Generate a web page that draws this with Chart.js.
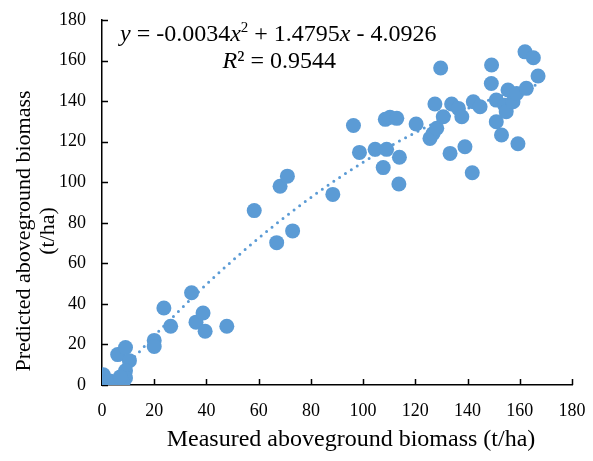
<!DOCTYPE html>
<html lang="en">
  <head>
    <meta charset="UTF-8" />
    <title>Biomass scatter</title>
    <style>
      html, body { margin: 0; padding: 0; background: #fff; }
      .wrap { width: 593px; height: 461px; position: relative; }
    </style>
  </head>
  <body>
    <div class="wrap"><canvas id="biomassChart" width="593" height="461"></canvas></div>

    <script src="https://cdn.jsdelivr.net/npm/chart.js"></script>
    <script>
      // measured (x) and predicted (y) biomass, t/ha
      const measured = [
        0.5, 1, 3, 6, 9, 10.5, 9, 9, 8, 7,
        20, 20, 23.7, 26.3, 34.3, 36, 38.7, 39.5, 47.8,
        58.3, 66.9, 68.2, 71, 73, 88.4,
        96.3, 98.6, 104.6, 107.7, 109, 108.5, 110.3, 112.9, 113.9, 113.7, 120.3,
        125.6, 126.8, 128.2, 127.5, 129.7, 130.7, 133.3, 133.9, 136.5, 137.8, 139, 141.8, 142.2, 144.8,
        149.2, 149.1, 151, 151, 153, 154.2, 154.8, 155.5, 157.4, 158.8, 159.3, 162.5, 162, 165.2, 167
      ];
      const predicted = [
        5, 1, 2, 15, 18.5, 12, 7, 3.5, 1, 4,
        22, 19, 38, 29, 45.5, 31, 35.5, 26.5, 29,
        86, 70.2, 98, 103, 76, 94,
        128, 114.7, 116.2, 107.2, 116.2, 131, 132, 131.5, 112.3, 99.1, 128.7,
        121.6, 124, 126.6, 138.6, 156.3, 132.3, 114.2, 138.6, 136.4, 132.3, 117.5, 104.7, 139.7, 137.2,
        157.8, 148.7, 140.5, 129.8, 123.3, 138, 134.8, 145.5, 139.7, 143.8, 119, 146.3, 164.3, 161.4, 152.4
      ];

      // fitted polynomial y = a x^2 + b x + c (as printed on the chart)
      const fitCoef = [-0.0034, 1.4795, -4.0926];
      const fitRange = [0, 167];

      const xTicks = [0, 20, 40, 60, 80, 100, 120, 140, 160, 180];
      const yTicks = [0, 20, 40, 60, 80, 100, 120, 140, 160, 180];

      const points = measured.map((x, i) => ({ x: x, y: predicted[i] }));
      const trend = [];
      for (let x = fitRange[0]; x <= fitRange[1]; x += 1) {
        trend.push({ x: x, y: fitCoef[0] * x * x + fitCoef[1] * x + fitCoef[2] });
      }

      const blue = "#5b9bd5";
      const serif = "'Liberation Serif', 'Times New Roman', serif";

      // small tick marks pointing into the plot, like Excel
      const innerTicks = {
        id: "innerTicks",
        beforeDatasetsDraw(chart) {
          const ctx = chart.ctx;
          const xs = chart.scales.x;
          const ys = chart.scales.y;
          ctx.save();
          ctx.strokeStyle = "#000";
          ctx.lineWidth = 1.5;
          ctx.beginPath();
          xTicks.forEach((v) => {
            const px = Math.round(xs.getPixelForValue(v)) + 0.5;
            ctx.moveTo(px, ys.bottom);
            ctx.lineTo(px, ys.bottom - 6);
          });
          yTicks.forEach((v) => {
            const py = Math.round(ys.getPixelForValue(v)) + 0.5;
            ctx.moveTo(xs.left, py);
            ctx.lineTo(xs.left + 6, py);
          });
          ctx.stroke();
          ctx.restore();
        },
      };

      // equation, R2 and axis titles
      const labels = {
        id: "labels",
        afterDraw(chart) {
          const ctx = chart.ctx;
          ctx.save();
          ctx.fillStyle = "#000";
          ctx.textBaseline = "alphabetic";

          const size = 24;
          const parts = [
            ["y", "italic", size, 0],
            [" = -0.0034", "normal", size, 0],
            ["x", "italic", size, 0],
            ["2", "normal", 15, -9],
            [" + 1.4795", "normal", size, 0],
            ["x", "italic", size, 0],
            [" - 4.0926", "normal", size, 0],
          ];
          let x = 120;
          parts.forEach((p) => {
            ctx.font = p[1] + " " + p[2] + "px " + serif;
            ctx.fillText(p[0], x, 41 + p[3]);
            x += ctx.measureText(p[0]).width;
          });

          const r2 = [
            ["R", "italic"],
            ["\u00b2 = 0.9544", "normal"],
          ];
          let w = 0;
          r2.forEach((p) => {
            ctx.font = p[1] + " " + size + "px " + serif;
            w += ctx.measureText(p[0]).width;
          });
          x = 336 - w;
          r2.forEach((p) => {
            ctx.font = p[1] + " " + size + "px " + serif;
            ctx.fillText(p[0], x, 68);
            x += ctx.measureText(p[0]).width;
          });

          ctx.font = "24px " + serif;
          ctx.textAlign = "center";
          ctx.textBaseline = "middle";
          ctx.fillText("Measured aboveground biomass (t/ha)", 351, 440);

          ctx.font = "22px " + serif;
          ctx.translate(0, 231);
          ctx.rotate(-Math.PI / 2);
          ctx.fillText("Predicted aboveground biomass", 0, 24);
          ctx.fillText("(t/ha)", 0, 48);
          ctx.restore();
        },
      };

      const ctx = document.getElementById("biomassChart").getContext("2d");
      const biomassChart = new Chart(ctx, {
        type: "scatter",
        data: {
          datasets: [
            {
              label: "Samples",
              data: points,
              backgroundColor: blue,
              borderColor: blue,
              borderWidth: 0,
              pointRadius: 7.5,
            },
            {
              label: "Trend",
              data: trend,
              showLine: true,
              pointRadius: 0,
              borderColor: blue,
              borderWidth: 3,
              borderDash: [0, 7],
              borderCapStyle: "round",
              fill: false,
            },
          ],
        },
        options: {
          responsive: false,
          animation: false,
          devicePixelRatio: 1,
          layout: { padding: { left: 0, top: 20, right: 21, bottom: 0 } },
          plugins: {
            legend: { display: false },
            tooltip: { enabled: false },
          },
          scales: {
            x: {
              type: "linear",
              min: 0,
              max: 180,
              afterFit: (s) => {
                s.height = 76;
                s.paddingLeft = 0;
                s.paddingRight = 0;
              },
              afterBuildTicks: (s) => { s.ticks = xTicks.map((v) => ({ value: v })); },
              grid: { display: true, drawOnChartArea: false, drawTicks: false },
              border: { display: true, color: "#000", width: 1.5 },
              ticks: { padding: 15, color: "#000", font: { family: serif, size: 18 } },
            },
            y: {
              type: "linear",
              min: 0,
              max: 180,
              afterFit: (s) => {
                s.width = 102;
                s.paddingTop = 0;
                s.paddingBottom = 0;
              },
              afterBuildTicks: (s) => { s.ticks = yTicks.map((v) => ({ value: v })); },
              grid: { display: true, drawOnChartArea: false, drawTicks: false },
              border: { display: true, color: "#000", width: 1.5 },
              ticks: { padding: 16, color: "#000", font: { family: serif, size: 18 } },
            },
          },
        },
        plugins: [innerTicks, labels],
      });
    </script>
  </body>
</html>
